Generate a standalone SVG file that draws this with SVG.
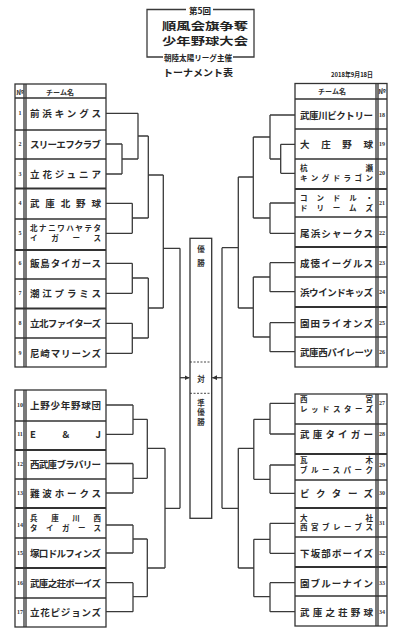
<svg xmlns="http://www.w3.org/2000/svg" width="406" height="640" viewBox="0 0 406 640">
<defs>
<style>
.ln{stroke:#3a3a3a;stroke-width:1.3;fill:none}
.tb{stroke:#333;stroke-width:1.3;fill:none}
.th{stroke:#333;stroke-width:2;fill:none}
.nm{font-family:"Noto Sans CJK JP","Noto Sans",sans-serif;font-size:9.5px;font-weight:bold;fill:#2a2a2a;dominant-baseline:central}
.nm2{font-family:"Noto Sans CJK JP","Noto Sans",sans-serif;font-size:7.5px;font-weight:bold;fill:#2a2a2a;dominant-baseline:central}
.no{font-family:"Liberation Serif","Noto Sans CJK JP",serif;font-size:6px;font-weight:bold;fill:#333;text-anchor:middle;dominant-baseline:central}
.hd{font-family:"Noto Sans CJK JP","Noto Sans",sans-serif;font-size:7px;font-weight:bold;fill:#333;text-anchor:middle;dominant-baseline:central}
.ti{font-family:"Noto Sans CJK JP","Noto Sans",sans-serif;font-weight:bold;fill:#222;dominant-baseline:central}
.cb{font-family:"Noto Sans CJK JP","Noto Sans",sans-serif;font-size:7.5px;font-weight:bold;fill:#333;text-anchor:middle;dominant-baseline:central}
</style>
<marker id="ah" viewBox="0 0 6 6" refX="6" refY="3" markerWidth="5" markerHeight="5" orient="auto" markerUnits="userSpaceOnUse">
<path d="M0,0 L6,3 L0,6 Z" fill="#333"/>
</marker>
</defs>
<rect width="406" height="640" fill="#fff"/>

<g id="title">
<path class="ln" d="M186,9.5 H147 V57 H163 M233,57 H254 V9.5 H213"/>
<text class="ti" x="200" y="9.5" font-size="8.5" text-anchor="middle">第5回</text>
<text class="ti" x="162" y="25.3" font-size="10" textLength="86" lengthAdjust="spacingAndGlyphs">順風会旗争奪</text>
<text class="ti" x="162" y="40" font-size="10" textLength="86" lengthAdjust="spacingAndGlyphs">少年野球大会</text>
<text class="ti" x="164" y="57" font-size="7.5" textLength="68" lengthAdjust="spacingAndGlyphs">朝陸太陽リーグ主催</text>
<text class="ti" x="163" y="71.5" font-size="9.5" textLength="70" lengthAdjust="spacingAndGlyphs">トーナメント表</text>
<text class="ti" x="373" y="74.3" font-size="6.5" text-anchor="end" textLength="42" lengthAdjust="spacingAndGlyphs">2018年9月18日</text>
</g>

<g id="table-left-top">
<rect class="tb" x="15" y="84" width="91" height="283"/>
<path class="tb" d="M24,84 V367 M26,84 V367"/>
<path class="tb" d="M15,98 H106 M15,130 H106 M15,159 H106 M15,219 H106 M15,279 H106 M15,338 H106"/>
<path class="th" d="M15,188.5 H106 M15,250 H106 M15,308.5 H106"/>
<text class="hd" x="20" y="91.5">№</text>
<text class="hd" x="60" y="91.5">チーム名</text>
</g>
<g id="team-1"><text class="no" x="20" y="113.3">1</text><text class="nm" x="30" y="113.3" textLength="71" lengthAdjust="spacing">前浜キングス</text></g>
<g id="team-2"><text class="no" x="20" y="144">2</text><text class="nm" x="30" y="144" textLength="71" lengthAdjust="spacing">スリーエフクラブ</text></g>
<g id="team-3"><text class="no" x="20" y="174">3</text><text class="nm" x="30" y="174" textLength="71" lengthAdjust="spacing">立花ジュニア</text></g>
<g id="team-4"><text class="no" x="20" y="203.3">4</text><text class="nm" x="30" y="203.3" textLength="71" lengthAdjust="spacing">武庫北野球</text></g>
<g id="team-5"><text class="no" x="20" y="233.3">5</text><text class="nm2" x="30" y="227" textLength="71" lengthAdjust="spacing">北ナニワハヤテタ</text><text class="nm2" x="30" y="237.5" textLength="71" lengthAdjust="spacing">イガース</text></g>
<g id="team-6"><text class="no" x="20" y="263.3">6</text><text class="nm" x="30" y="263.3" textLength="71" lengthAdjust="spacing">飯島タイガース</text></g>
<g id="team-7"><text class="no" x="20" y="293.3">7</text><text class="nm" x="30" y="293.3" textLength="71" lengthAdjust="spacing">潮江プラミス</text></g>
<g id="team-8"><text class="no" x="20" y="323.3">8</text><text class="nm" x="30" y="323.3" textLength="71" lengthAdjust="spacing">立北ファイターズ</text></g>
<g id="team-9"><text class="no" x="20" y="353.3">9</text><text class="nm" x="30" y="353.3" textLength="71" lengthAdjust="spacing">尼崎マリーンズ</text></g>

<g id="table-left-bottom">
<rect class="tb" x="15" y="390" width="91" height="237"/>
<path class="tb" d="M24,390 V627 M26,390 V627"/>
<path class="tb" d="M15,421 H106 M15,479 H106 M15,538 H106 M15,598 H106"/>
<path class="th" d="M15,450 H106 M15,508 H106 M15,568 H106"/>
</g>
<g id="team-10"><text class="no" x="20" y="405">10</text><text class="nm" x="30" y="405" textLength="71" lengthAdjust="spacing">上野少年野球団</text></g>
<g id="team-11"><text class="no" x="20" y="434.4">11</text><text class="nm" x="30" y="434.4" textLength="71" lengthAdjust="spacing">E＆J</text></g>
<g id="team-12"><text class="no" x="20" y="463.5">12</text><text class="nm" x="30" y="463.5" textLength="71" lengthAdjust="spacing">西武庫ブラバリー</text></g>
<g id="team-13"><text class="no" x="20" y="493">13</text><text class="nm" x="30" y="493" textLength="71" lengthAdjust="spacing">難波ホークス</text></g>
<g id="team-14"><text class="no" x="20" y="525">14</text><text class="nm2" x="30" y="517" textLength="71" lengthAdjust="spacing">兵庫川西</text><text class="nm2" x="30" y="527" textLength="71" lengthAdjust="spacing">タイガース</text></g>
<g id="team-15"><text class="no" x="20" y="553">15</text><text class="nm" x="30" y="553" textLength="71" lengthAdjust="spacing">塚口ドルフィンズ</text></g>
<g id="team-16"><text class="no" x="20" y="582.7">16</text><text class="nm" x="30" y="582.7" textLength="71" lengthAdjust="spacing">武庫之荘ボーイズ</text></g>
<g id="team-17"><text class="no" x="20" y="611.7">17</text><text class="nm" x="30" y="611.7" textLength="71" lengthAdjust="spacing">立花ピジョンズ</text></g>

<g id="table-right-top">
<rect class="tb" x="295" y="83.5" width="92" height="283.5"/>
<path class="tb" d="M376,83.5 V367 M378,83.5 V367"/>
<path class="tb" d="M295,99 H387 M295,129 H387 M295,159 H387 M295,217 H387 M295,277 H387 M295,337 H387"/>
<path class="th" d="M295,189 H387 M295,247 H387 M295,307 H387"/>
<text class="hd" x="332" y="91">チーム名</text>
<text class="hd" x="382" y="91">№</text>
</g>
<g id="team-18"><text class="nm" x="300" y="115" textLength="73" lengthAdjust="spacing">武庫川ビクトリー</text><text class="no" x="382" y="115">18</text></g>
<g id="team-19"><text class="nm" x="300" y="144.3" textLength="73" lengthAdjust="spacing">大庄野球</text><text class="no" x="382" y="144.3">19</text></g>
<g id="team-20"><text class="nm2" x="300" y="167.5" textLength="73" lengthAdjust="spacing">杭瀬</text><text class="nm2" x="300" y="177" textLength="73" lengthAdjust="spacing">キングドラゴン</text><text class="no" x="382" y="173.3">20</text></g>
<g id="team-21"><text class="nm2" x="300" y="197.5" textLength="73" lengthAdjust="spacing">コンドル・</text><text class="nm2" x="300" y="207.5" textLength="73" lengthAdjust="spacing">ドリームズ</text><text class="no" x="382" y="203">21</text></g>
<g id="team-22"><text class="nm" x="300" y="233.3" textLength="73" lengthAdjust="spacing">尾浜シャークス</text><text class="no" x="382" y="233.3">22</text></g>
<g id="team-23"><text class="nm" x="300" y="262.7" textLength="73" lengthAdjust="spacing">成徳イーグルス</text><text class="no" x="382" y="262.7">23</text></g>
<g id="team-24"><text class="nm" x="300" y="291.7" textLength="73" lengthAdjust="spacing">浜ウインドキッズ</text><text class="no" x="382" y="291.7">24</text></g>
<g id="team-25"><text class="nm" x="300" y="322.7" textLength="73" lengthAdjust="spacing">園田ライオンズ</text><text class="no" x="382" y="322.7">25</text></g>
<g id="team-26"><text class="nm" x="300" y="351.7" textLength="73" lengthAdjust="spacing">武庫西パイレーツ</text><text class="no" x="382" y="351.7">26</text></g>

<g id="table-right-bottom">
<rect class="tb" x="295" y="394" width="92" height="232"/>
<path class="tb" d="M376,394 V626 M378,394 V626"/>
<path class="tb" d="M295,424 H387 M295,480 H387 M295,537 H387 M295,596 H387"/>
<path class="th" d="M295,454 H387 M295,508 H387 M295,567 H387"/>
</g>
<g id="team-27"><text class="nm2" x="300" y="398.5" textLength="73" lengthAdjust="spacing">西宮</text><text class="nm2" x="300" y="408" textLength="73" lengthAdjust="spacing">レッドスターズ</text><text class="no" x="382" y="403.3">27</text></g>
<g id="team-28"><text class="nm" x="300" y="434" textLength="73" lengthAdjust="spacing">武庫タイガー</text><text class="no" x="382" y="434">28</text></g>
<g id="team-29"><text class="nm2" x="300" y="459.5" textLength="73" lengthAdjust="spacing">瓦木</text><text class="nm2" x="300" y="469" textLength="73" lengthAdjust="spacing">ブルースパーク</text><text class="no" x="382" y="465">29</text></g>
<g id="team-30"><text class="nm" x="300" y="493.3" textLength="73" lengthAdjust="spacing">ビクターズ</text><text class="no" x="382" y="493.3">30</text></g>
<g id="team-31"><text class="nm2" x="300" y="517" textLength="73" lengthAdjust="spacing">大社</text><text class="nm2" x="300" y="526.5" textLength="73" lengthAdjust="spacing">西宮ブレーブス</text><text class="no" x="382" y="523.3">31</text></g>
<g id="team-32"><text class="nm" x="300" y="553.3" textLength="73" lengthAdjust="spacing">下坂部ボーイズ</text><text class="no" x="382" y="553.3">32</text></g>
<g id="team-33"><text class="nm" x="300" y="582.7" textLength="73" lengthAdjust="spacing">園ブルーナイン</text><text class="no" x="382" y="582.7">33</text></g>
<g id="team-34"><text class="nm" x="300" y="611.7" textLength="73" lengthAdjust="spacing">武庫之荘野球</text><text class="no" x="382" y="611.7">34</text></g>

<g id="final-box">
<rect class="tb" x="190" y="238.3" width="21.7" height="280"/>
<path d="M190,362 H211.7 M190,393.3 H211.7" stroke="#333" stroke-width="0.9" stroke-dasharray="2,1.5" fill="none"/>
<text class="cb" x="201" y="248">優</text>
<text class="cb" x="201" y="262.5">勝</text>
<text class="cb" x="201" y="378">対</text>
<text class="cb" x="201" y="402">準</text>
<text class="cb" x="201" y="411.5">優</text>
<text class="cb" x="201" y="421">勝</text>
</g>

<g id="connectors">
<path class="ln" d="M106,113.3 H138 M106,144 H122 M106,174 H122 M122,144 V174 M122,159 H138 M138,113.3 V159 M138,136 H148.3
M106,203.3 H132.3 M106,233.3 H132.3 M132.3,203.3 V233.3 M132.3,218 H148.3 M148.3,136 V218 M148.3,175 H163.3
M106,263.3 H132.3 M106,293.3 H132.3 M132.3,263.3 V293.3 M132.3,278 H148.3
M106,323.3 H132.3 M106,353.3 H132.3 M132.3,323.3 V353.3 M132.3,338 H148.3 M148.3,278 V338 M148.3,308 H163.3
M163.3,175 V308 M163.3,248.3 H180 M180,248.3 V508.3"/>
<path class="ln" d="M106,405 H133 M106,434.4 H133 M133,405 V434.4 M133,419.3 H147.3
M106,463.5 H133 M106,493 H133 M133,463.5 V493 M133,478.3 H147.3 M147.3,419.3 V478.3 M147.3,448.3 H165
M106,525 H133 M106,553 H133 M133,525 V553 M133,539 H147.3
M106,582.7 H133 M106,611.7 H133 M133,582.7 V611.7 M133,596.7 H147.3 M147.3,539 V596.7 M147.3,568 H165
M165,448.3 V568 M165,508.3 H180"/>
<path class="ln" d="M295,115 H270 M295,144.3 H280.7 M295,173.3 H280.7 M280.7,144.3 V173.3 M280.7,159 H270 M270,115 V159 M270,137 H253.3
M295,203 H270 M295,233.3 H270 M270,203 V233.3 M270,218 H253.3 M253.3,137 V218 M253.3,177 H238.3
M295,262.7 H270 M295,291.7 H270 M270,262.7 V291.7 M270,277 H253.3
M295,322.7 H270 M295,351.7 H270 M270,322.7 V351.7 M270,337 H253.3 M253.3,277 V337 M253.3,308 H238.3
M238.3,177 V308 M238.3,247.7 H222 M222,247.7 V508.3"/>
<path class="ln" d="M295,403.3 H270 M295,434 H270 M270,403.3 V434 M270,419.3 H253.8
M295,465 H270 M295,493.3 H270 M270,465 V493.3 M270,479.3 H253.8 M253.8,419.3 V479.3 M253.8,448.3 H238.3
M295,523.3 H270 M295,553.3 H270 M270,523.3 V553.3 M270,539.3 H253.8
M295,582.7 H270 M295,611.7 H270 M270,582.7 V611.7 M270,596.7 H253.8 M253.8,539.3 V596.7 M253.8,568 H238.3
M238.3,448.3 V568 M238.3,508.3 H222"/>
<path class="ln" d="M180,377.7 H189.5" marker-end="url(#ah)"/>
<path class="ln" d="M222,377.7 H212.2" marker-end="url(#ah)"/>
</g>
</svg>
